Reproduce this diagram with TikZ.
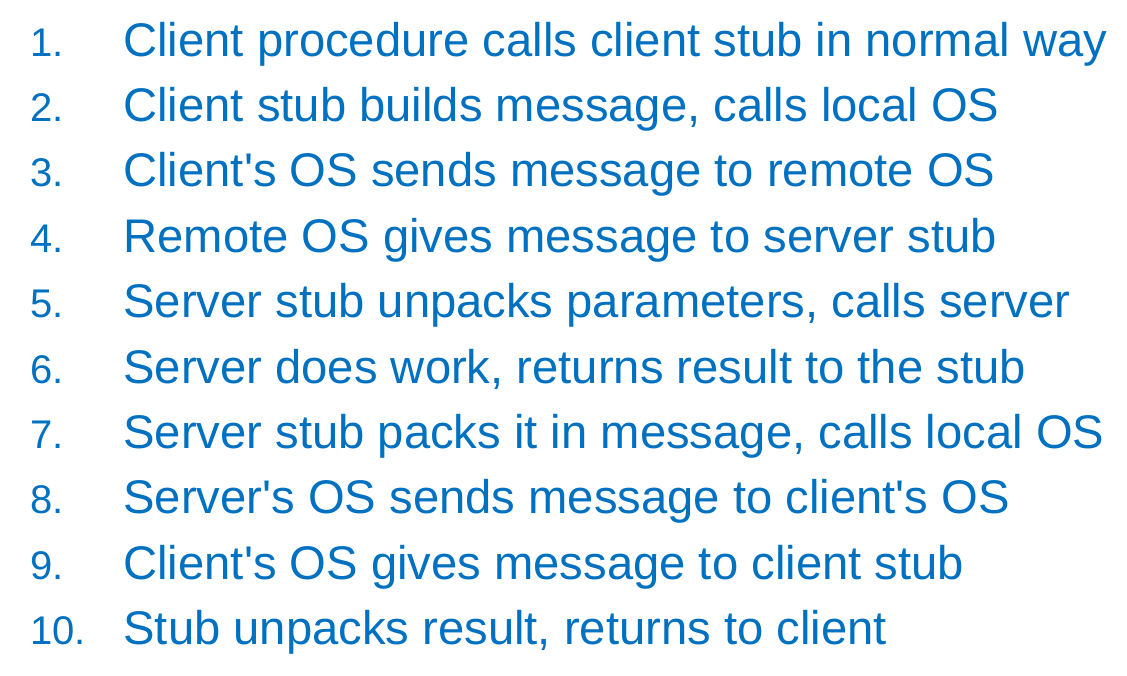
\documentclass[tikz,border=0pt]{standalone}
\usepackage{fontspec}
\setmainfont{Liberation Sans}
\definecolor{stepblue}{HTML}{0070C0}
\tikzset{
	numtext/.style={anchor=base west, inner sep=0pt, text=stepblue, font=\fontsize{20}{22}\selectfont},
	steptext/.style={anchor=base west, inner sep=0pt, text=stepblue, font=\fontsize{23.6}{28}\selectfont}
}
\begin{document}
\begin{tikzpicture}[x=1pt,y=1pt]
	\useasboundingbox (0,0) rectangle (563.5,-337.5);
	\node[numtext] (n1) at (15,-28) {1.};
	\node[numtext] (n2) at (15,-60.7) {2.};
	\node[numtext] (n3) at (15,-93.4) {3.};
	\node[numtext] (n4) at (15,-126.1) {4.};
	\node[numtext] (n5) at (15,-158.8) {5.};
	\node[numtext] (n6) at (15,-191.5) {6.};
	\node[numtext] (n7) at (15,-224.2) {7.};
	\node[numtext] (n8) at (15,-256.9) {8.};
	\node[numtext] (n9) at (15,-289.6) {9.};
	\node[numtext] (n10) at (15,-322.3) {10.};
	\node[steptext] (s1) at (61.5,-28) {Client procedure calls client stub in normal way};
	\node[steptext] (s2) at (61.5,-60.7) {Client stub builds message, calls local OS};
	\node[steptext] (s3) at (61.5,-93.4) {Client\textquotesingle s OS sends message to remote OS};
	\node[steptext] (s4) at (61.5,-126.1) {Remote OS gives message to server stub};
	\node[steptext] (s5) at (61.5,-158.8) {Server stub unpacks parameters, calls server};
	\node[steptext] (s6) at (61.5,-191.5) {Server does work, returns result to the stub};
	\node[steptext] (s7) at (61.5,-224.2) {Server stub packs it in message, calls local OS};
	\node[steptext] (s8) at (61.5,-256.9) {Server\textquotesingle s OS sends message to client\textquotesingle s OS};
	\node[steptext] (s9) at (61.5,-289.6) {Client\textquotesingle s OS gives message to client stub};
	\node[steptext] (s10) at (61.5,-322.3) {Stub unpacks result, returns to client};
\end{tikzpicture}
\end{document}
